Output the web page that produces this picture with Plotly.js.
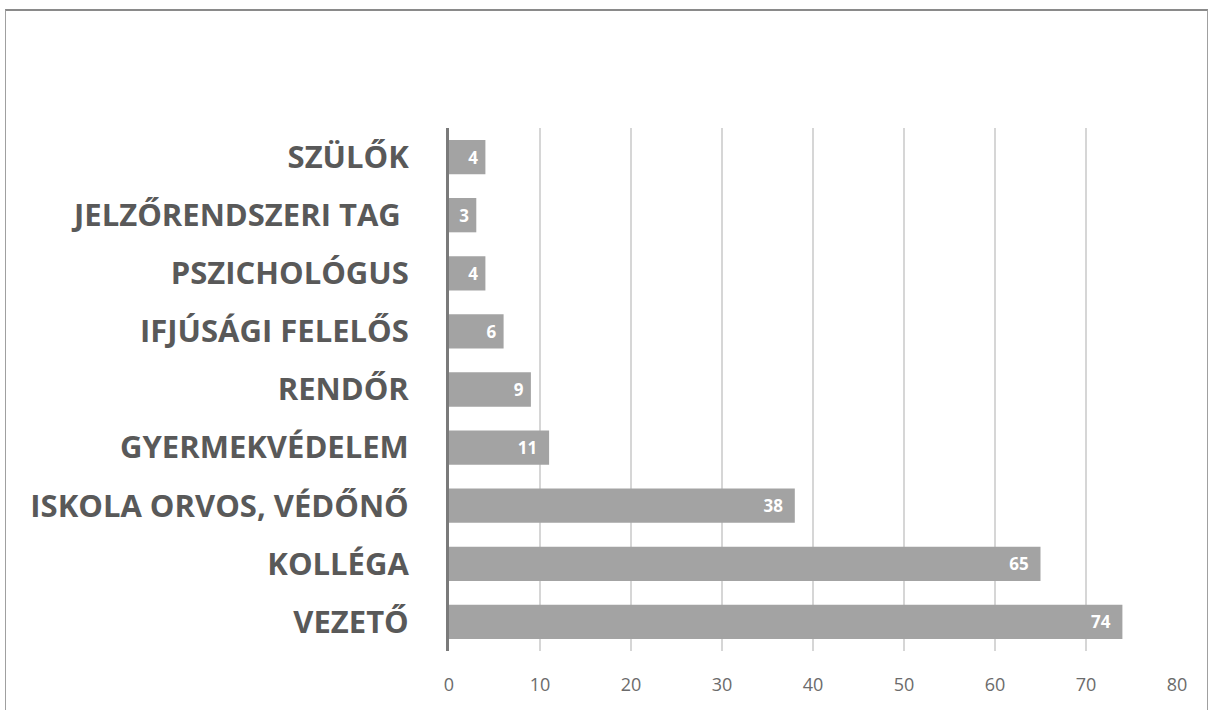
<!DOCTYPE html>
<html>
<head>
<meta charset="utf-8">
<script src="https://cdn.plot.ly/plotly-3.0.1.min.js"></script>
<style>
html,body{margin:0;padding:0;background:#fff;}
#frame{position:absolute;left:5px;top:9px;width:1203px;height:710px;border-top:2px solid #8a8a8a;border-left:1.5px solid #a0a0a0;border-right:1.5px solid #a0a0a0;box-sizing:border-box;}
#chart{position:absolute;left:0;top:0;width:1210px;height:710px;}
</style>
</head>
<body>
<div id="frame"></div>
<div id="chart"></div>
<script>
var categories = ["SZÜLŐK", "JELZŐRENDSZERI TAG\u00a0", "PSZICHOLÓGUS", "IFJÚSÁGI FELELŐS", "RENDŐR", "GYERMEKVÉDELEM", "ISKOLA ORVOS, VÉDŐNŐ", "KOLLÉGA", "VEZETŐ"];
var values = [4, 3, 4, 6, 9, 11, 38, 65, 74];
var xTicks = [0, 10, 20, 30, 40, 50, 60, 70, 80];

var trace = {
  type: 'bar',
  orientation: 'h',
  y: categories,
  x: values,
  text: values.map(function (v) { return v < 10 ? String(v) + '\u00a0' : String(v) + '\u00a0\u00a0'; }),
  textposition: 'inside',
  insidetextanchor: 'end',
  constraintext: 'none',
  textfont: {family: 'Open Sans, sans-serif', size: 17, color: '#ffffff', weight: 700},
  marker: {color: '#a3a3a3', line: {width: 0}},
  hoverinfo: 'none'
};

var layout = {
  width: 1210,
  height: 710,
  margin: {l: 449, r: 33, t: 128, b: 59},
  paper_bgcolor: 'rgba(0,0,0,0)',
  plot_bgcolor: 'rgba(0,0,0,0)',
  bargap: 0.41,
  showlegend: false,
  xaxis: {
    range: [0, 80],
    tickvals: xTicks,
    ticktext: xTicks.map(String),
    showgrid: true,
    gridcolor: '#d6d6d6',
    gridwidth: 1.5,
    zeroline: false,
    showline: false,
    ticks: 'outside',
    ticklen: 17,
    tickcolor: 'rgba(0,0,0,0)',
    tickfont: {family: 'Open Sans, sans-serif', size: 18, color: '#6b6b6b'},
    fixedrange: true
  },
  yaxis: {
    autorange: 'reversed',
    showgrid: false,
    zeroline: false,
    showline: true,
    linecolor: '#7a7a7a',
    linewidth: 3,
    ticks: 'outside',
    ticklen: 31,
    tickcolor: 'rgba(0,0,0,0)',
    tickfont: {family: 'Open Sans, sans-serif', size: 31, color: '#595959', weight: 700},
    fixedrange: true
  }
};

Plotly.newPlot('chart', [trace], layout, {displayModeBar: false, staticPlot: true});
</script>
</body>
</html>
